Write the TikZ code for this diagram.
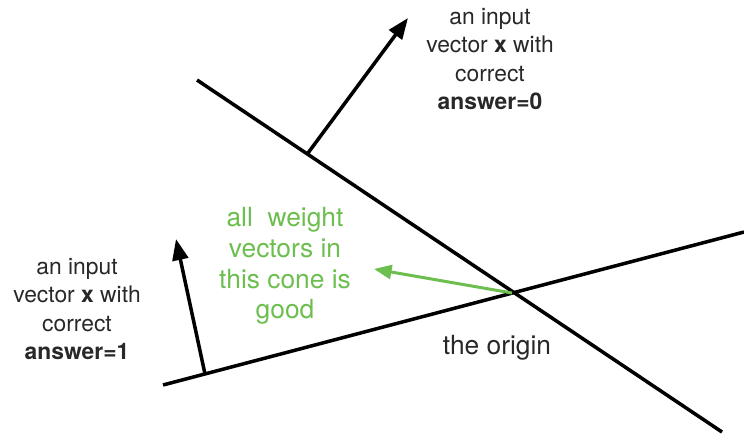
\documentclass[tikz,border=0pt]{standalone}
\usepackage{fontspec}
\setmainfont{TeX Gyre Heros}
\usepackage{xcolor}
\usetikzlibrary{arrows.meta}
\definecolor{txtgray}{RGB}{40,40,40}
\definecolor{conegreen}{RGB}{108,190,78}

\begin{document}
\begin{tikzpicture}[
    x=0.02cm, y=-0.02cm,
    every node/.style={font=\fontsize{13}{16}\selectfont, text=txtgray},
    lbl/.style={align=center, inner sep=0pt},
    plane/.style={line width=2pt, black},
    vec/.style={-{Triangle[length=12pt, width=9pt]}, line width=2pt, black},
    wvec/.style={-{Triangle[length=10pt, width=8pt]}, line width=1.7pt, conegreen},
]
    \useasboundingbox (0,0) rectangle (744,434);

    \coordinate (a1) at (197,80);
    \coordinate (a2) at (722,432);
    \coordinate (b1) at (163,385);
    \coordinate (b2) at (744,232);
    \coordinate (orig) at (512,293);
    \coordinate (p0) at (308,153);
    \coordinate (t0) at (408,18);
    \coordinate (p1) at (205,374);
    \coordinate (t1) at (176,239);
    \coordinate (tw) at (374,269);

    \node[lbl] (ans0) at (490,59) {an input\\ vector \textbf{x} with\\ correct\\ \textbf{answer=0}};
    \node[lbl] (ans1) at (77,309) {an input\\ vector \textbf{x} with\\ correct\\ \textbf{answer=1}};
    \node[lbl, text=conegreen, font=\fontsize{15}{17.5}\selectfont] (cone) at (285,266)
        {all\ \ weight\\ vectors in\\ this cone is\\ good};
    \node[lbl, font=\fontsize{15}{17.5}\selectfont] (orlbl) at (497,348) {the origin};

    \draw[plane] (a1) -- (a2);
    \draw[plane] (b1) -- (b2);
    \draw[vec] (p0) -- (t0);
    \draw[vec] (p1) -- (t1);
    \draw[wvec] (orig) -- (tw);
\end{tikzpicture}
\end{document}
